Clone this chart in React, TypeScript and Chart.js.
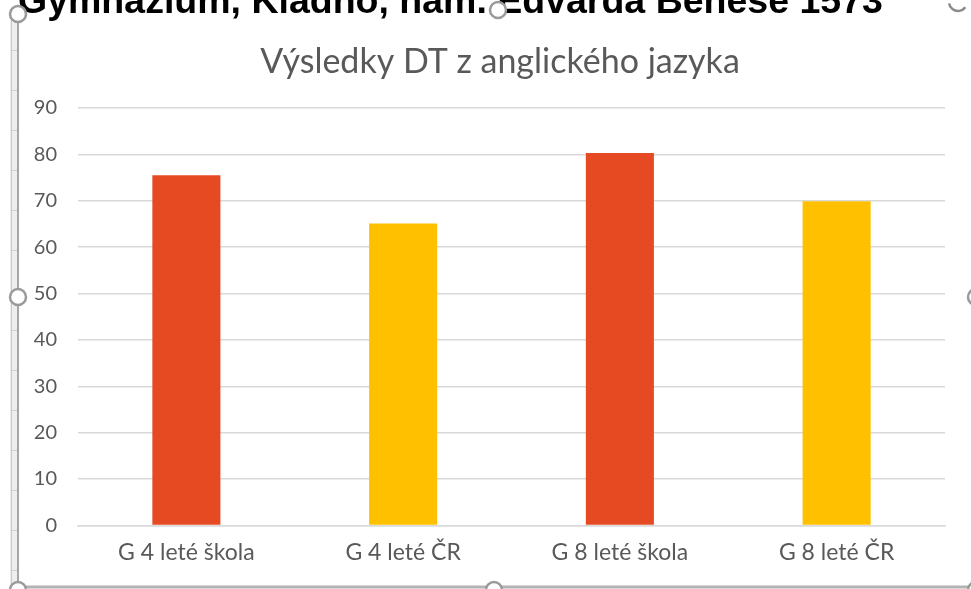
import React, { useEffect, useRef } from "react";
import { Chart, registerables } from "chart.js";

Chart.register(...registerables);

const categories = ["G 4 leté škola", "G 4 leté ČR", "G 8 leté škola", "G 8 leté ČR"];
const values = [75.5, 65.1, 80.3, 69.9];
const barColors = ["#E64A23", "#FFC000", "#E64A23", "#FFC000"];
const yTicks = [0, 10, 20, 30, 40, 50, 60, 70, 80, 90];
const chartTitle = "Výsledky DT z anglického jazyka";
const headerText = "Gymnázium, Kladno, nám. Edvarda Beneše 1573";

const framePlugin = {
  id: "frame",
  afterDraw(chart: any) {
    const ctx = chart.ctx as CanvasRenderingContext2D;
    const W = chart.width;
    const H = chart.height;
    ctx.save();
    // chart title, centred on the frame
    ctx.fillStyle = "#595959";
    ctx.font = "34px Lato, 'Open Sans', sans-serif";
    ctx.textAlign = "center";
    ctx.textBaseline = "middle";
    ctx.fillText(chartTitle, 500, 62);
    // header text (cut off at top)
    ctx.fillStyle = "#000000";
    ctx.font = "bold 37.5px 'Liberation Sans', Arial, sans-serif";
    ctx.textBaseline = "alphabetic";
    ctx.textAlign = "left";
    ctx.fillText(headerText, 18, 13);
    // left border strip
    ctx.fillStyle = "#eeeeee";
    ctx.fillRect(10, 20, 9, H - 22);
    ctx.strokeStyle = "#c9c9c9";
    ctx.lineWidth = 1;
    ctx.beginPath();
    ctx.moveTo(11.5, 20);
    ctx.lineTo(11.5, H - 2);
    ctx.stroke();
    ctx.strokeStyle = "#a6a6a6";
    ctx.lineWidth = 2;
    ctx.beginPath();
    ctx.moveTo(18, 20);
    ctx.lineTo(18, H - 2);
    ctx.stroke();
    // small ticks on left strip
    ctx.strokeStyle = "#cfcfcf";
    ctx.lineWidth = 1;
    for (let y = 50; y < H - 10; y += 40) {
      ctx.beginPath();
      ctx.moveTo(12, y + 0.5);
      ctx.lineTo(17, y + 0.5);
      ctx.stroke();
    }
    // bottom line
    ctx.strokeStyle = "#b3b3b3";
    ctx.lineWidth = 3;
    ctx.beginPath();
    ctx.moveTo(10, 587);
    ctx.lineTo(W, 587);
    ctx.stroke();
    // handles
    const handles: [number, number][] = [
      [18, 14],
      [498, 10],
      [18, 297],
      [976, 297],
      [18, 590],
      [494, 590],
      [976, 590],
    ];
    for (const [x, y] of handles) {
      ctx.beginPath();
      ctx.arc(x, y, 8, 0, Math.PI * 2);
      ctx.fillStyle = "#ffffff";
      ctx.fill();
      ctx.strokeStyle = "#9a9a9a";
      ctx.lineWidth = 2.5;
      ctx.stroke();
    }
    // rotation handle hint at top right
    ctx.strokeStyle = "#8a8a8a";
    ctx.lineWidth = 2.5;
    ctx.beginPath();
    ctx.arc(958, 2, 9, Math.PI * 0.2, Math.PI * 0.95);
    ctx.stroke();
    ctx.restore();
  },
};

export default function App() {
  const ref = useRef<HTMLCanvasElement | null>(null);
  useEffect(() => {
    document.body.style.margin = "0";
    const canvas = ref.current!;
    const chart = new Chart(canvas, {
      type: "bar",
      data: {
        labels: categories,
        datasets: [
          {
            data: values,
            backgroundColor: barColors,
            borderWidth: 0,
            barPercentage: 0.314,
            categoryPercentage: 1,
          },
        ],
      },
      options: {
        animation: false,
        responsive: false,
        devicePixelRatio: 1,
        layout: { padding: { left: 0, right: 26, top: 108, bottom: 10 } },
        plugins: {
          legend: { display: false },
          tooltip: { enabled: false },
          title: { display: false },
        },
        scales: {
          x: {
            grid: { display: false, drawTicks: false },
            border: { display: true, color: "#d9d9d9", width: 1.5 },
            ticks: {
              color: "#595959",
              font: { family: "Lato, 'Open Sans', sans-serif", size: 23 },
              padding: 13,
              maxRotation: 0,
            },
          },
          y: {
            min: 0,
            max: 90,
            afterFit(scale: any) {
              scale.width = 78;
            },
            afterBuildTicks(scale: any) {
              scale.ticks = yTicks.map((v) => ({ value: v }));
            },
            grid: { color: "#d9d9d9", lineWidth: 1.5, drawTicks: false },
            border: { display: false },
            ticks: {
              color: "#595959",
              font: { family: "Lato, 'Open Sans', sans-serif", size: 20 },
              padding: 21,
              stepSize: 10,
            },
          },
        },
      },
      plugins: [framePlugin],
    });
    return () => chart.destroy();
  }, []);
  return (
    <div style={{ position: "fixed", left: 0, top: 0, width: 971, height: 589, background: "#fff" }}>
      <canvas ref={ref} width={971} height={589} style={{ width: 971, height: 589, display: "block" }} />
    </div>
  );
}
